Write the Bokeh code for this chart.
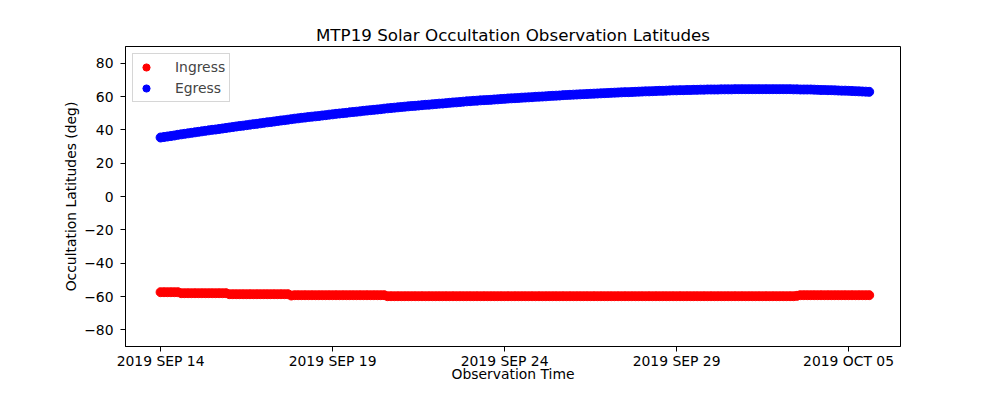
from bokeh.plotting import figure
from bokeh.models import FixedTicker, Range1d, Legend, LegendItem
from bokeh.embed import file_html
from bokeh.resources import INLINE

# Observation time: days after 2019 SEP 14 00:00, one sample every 0.1 day
obs_day = [round(0.1 * i, 1) for i in range(207)]

egress_lat = [
    35.4, 35.7, 36.0, 36.3, 36.6, 37.0, 37.3, 37.6, 37.9, 38.2,
    38.5, 38.8, 39.1, 39.4, 39.7, 40.0, 40.2, 40.5, 40.8, 41.1,
    41.4, 41.7, 42.0, 42.3, 42.5, 42.8, 43.1, 43.4, 43.6, 43.9,
    44.2, 44.5, 44.7, 45.0, 45.3, 45.6, 45.8, 46.1, 46.4, 46.7,
    46.9, 47.2, 47.4, 47.7, 47.9, 48.1, 48.3, 48.6, 48.8, 49.1,
    49.3, 49.6, 49.8, 50.0, 50.2, 50.5, 50.7, 50.9, 51.1, 51.4,
    51.6, 51.8, 52.0, 52.2, 52.4, 52.7, 52.9, 53.1, 53.3, 53.5,
    53.7, 53.9, 54.1, 54.3, 54.4, 54.6, 54.8, 55.0, 55.1, 55.3,
    55.5, 55.7, 55.8, 56.0, 56.2, 56.4, 56.5, 56.7, 56.9, 57.1,
    57.2, 57.4, 57.5, 57.7, 57.8, 57.9, 58.0, 58.2, 58.3, 58.5,
    58.6, 58.8, 58.9, 59.0, 59.1, 59.3, 59.4, 59.5, 59.6, 59.8,
    59.9, 60.0, 60.1, 60.3, 60.4, 60.5, 60.6, 60.8, 60.9, 61.0,
    61.1, 61.2, 61.3, 61.4, 61.5, 61.6, 61.7, 61.8, 61.9, 62.0,
    62.1, 62.2, 62.3, 62.4, 62.5, 62.6, 62.6, 62.7, 62.8, 62.9,
    63.0, 63.1, 63.1, 63.2, 63.3, 63.4, 63.4, 63.5, 63.6, 63.7,
    63.7, 63.8, 63.8, 63.9, 63.9, 64.0, 64.0, 64.1, 64.1, 64.2,
    64.2, 64.2, 64.2, 64.3, 64.3, 64.3, 64.3, 64.4, 64.4, 64.4,
    64.4, 64.4, 64.4, 64.4, 64.4, 64.4, 64.4, 64.4, 64.4, 64.4,
    64.4, 64.4, 64.4, 64.4, 64.3, 64.3, 64.2, 64.2, 64.2, 64.2,
    64.1, 64.0, 63.9, 63.9, 63.8, 63.8, 63.7, 63.6, 63.5, 63.5,
    63.4, 63.3, 63.2, 63.1, 63.0, 62.9, 62.8,
]

ingress_lat = [
    -57.4, -57.4, -57.4, -57.4, -57.4, -57.4, -58.0, -58.0, -58.0, -58.0,
    -58.0, -58.0, -58.0, -58.0, -58.0, -58.0, -58.0, -58.0, -58.0, -58.0,
    -58.6, -58.6, -58.6, -58.6, -58.6, -58.6, -58.6, -58.6, -58.6, -58.6,
    -58.6, -58.6, -58.6, -58.6, -58.6, -58.6, -58.6, -58.6, -59.4, -59.2,
    -59.2, -59.2, -59.2, -59.2, -59.2, -59.2, -59.2, -59.2, -59.2, -59.2,
    -59.2, -59.2, -59.2, -59.2, -59.2, -59.2, -59.2, -59.2, -59.2, -59.2,
    -59.2, -59.2, -59.2, -59.2, -59.2, -59.2, -59.8, -59.8, -59.8, -59.8,
    -59.8, -59.8, -59.8, -59.8, -59.8, -59.8, -59.8, -59.8, -59.8, -59.8,
    -59.8, -59.8, -59.8, -59.8, -59.8, -59.8, -59.8, -59.8, -59.8, -59.8,
    -59.8, -59.8, -59.8, -59.8, -59.8, -59.8, -59.8, -59.8, -59.8, -59.8,
    -59.8, -59.8, -59.8, -59.8, -59.8, -59.8, -59.8, -59.8, -59.8, -59.8,
    -59.8, -59.8, -59.8, -59.8, -59.8, -59.8, -59.8, -59.8, -59.8, -59.8,
    -59.8, -59.8, -59.8, -59.8, -59.8, -59.8, -59.8, -59.8, -59.8, -59.8,
    -59.8, -59.8, -59.8, -59.8, -59.8, -59.8, -59.8, -59.8, -59.8, -59.8,
    -59.8, -59.8, -59.8, -59.8, -59.8, -59.8, -59.8, -59.8, -59.8, -59.8,
    -59.8, -59.8, -59.8, -59.8, -59.8, -59.8, -59.8, -59.8, -59.8, -59.8,
    -59.8, -59.8, -59.8, -59.8, -59.8, -59.8, -59.8, -59.8, -59.8, -59.8,
    -59.8, -59.8, -59.8, -59.8, -59.8, -59.8, -59.8, -59.8, -59.8, -59.8,
    -59.8, -59.8, -59.8, -59.8, -59.8, -59.6, -59.2, -59.2, -59.2, -59.2,
    -59.2, -59.2, -59.2, -59.2, -59.2, -59.2, -59.2, -59.2, -59.2, -59.2,
    -59.2, -59.2, -59.2, -59.2, -59.2, -59.2, -59.2,
]

x_tick_pos = [0, 5, 10, 15, 20]
x_tick_labels = ["2019 SEP 14", "2019 SEP 19", "2019 SEP 24", "2019 SEP 29", "2019 OCT 05"]
y_tick_pos = [-80, -60, -40, -20, 0, 20, 40, 60, 80]
y_tick_labels = ["\u221280", "\u221260", "\u221240", "\u221220", "0", "20", "40", "60", "80"]

FONT = "DejaVu Sans"

p = figure(width=984, height=384, output_backend="svg", toolbar_location=None,
           x_range=Range1d(-1.02, 21.51), y_range=Range1d(-90, 90),
           min_border_left=125, min_border_right=84, min_border_top=46, min_border_bottom=30,
           title="MTP19 Solar Occultation Observation Latitudes")

p.title.align = "center"
p.title.text_font = FONT
p.title.text_font_size = "16.7px"
p.title.text_font_style = "normal"
p.title.text_color = "black"
p.title.standoff = 4

p.xgrid.visible = False
p.ygrid.visible = False
p.outline_line_color = "black"
p.outline_line_alpha = 1.0
p.outline_line_width = 1

r_in = p.scatter(obs_day, ingress_lat, size=9, marker="circle", fill_color="red", line_color="red", line_width=1)
r_eg = p.scatter(obs_day, egress_lat, size=9, marker="circle", fill_color="blue", line_color="blue", line_width=1)

for ax in (p.xaxis[0], p.yaxis[0]):
    ax.major_label_text_font = FONT
    ax.major_label_text_font_size = "13.9px"
    ax.major_label_text_color = "black"
    ax.axis_label_text_font = FONT
    ax.axis_label_text_font_size = "13.9px"
    ax.axis_label_text_font_style = "normal"
    ax.axis_label_text_color = "black"
    ax.major_tick_in = 0
    ax.major_tick_out = 5
    ax.minor_tick_in = 0
    ax.minor_tick_out = 0
    ax.axis_line_color = "black"
    ax.major_tick_line_color = "black"

p.xaxis.ticker = FixedTicker(ticks=x_tick_pos)
p.xaxis.major_label_overrides = {t: l for t, l in zip(x_tick_pos, x_tick_labels)}
p.xaxis.major_label_standoff = 1
p.xaxis.axis_label = "Observation Time"
p.xaxis.axis_label_standoff = -6

p.yaxis.ticker = FixedTicker(ticks=y_tick_pos)
p.yaxis.major_label_overrides = {t: l for t, l in zip(y_tick_pos, y_tick_labels)}
p.yaxis.major_label_standoff = 7
p.yaxis.axis_label = "Occultation Latitudes (deg)"
p.yaxis.axis_label_standoff = 2

legend = Legend(items=[LegendItem(label="Ingress", renderers=[r_in]),
                       LegendItem(label="Egress", renderers=[r_eg])],
                location="top_left")
legend.margin = 7
legend.padding = 4
legend.spacing = 3
legend.glyph_width = 18
legend.glyph_height = 18
legend.label_height = 18
legend.label_standoff = 20
legend.label_text_font = FONT
legend.label_text_font_size = "13.9px"
legend.border_line_color = "#cccccc"
legend.border_line_alpha = 0.8
legend.background_fill_alpha = 0.8
p.add_layout(legend, "center")

open("out.html", "w").write(file_html(p, INLINE))
